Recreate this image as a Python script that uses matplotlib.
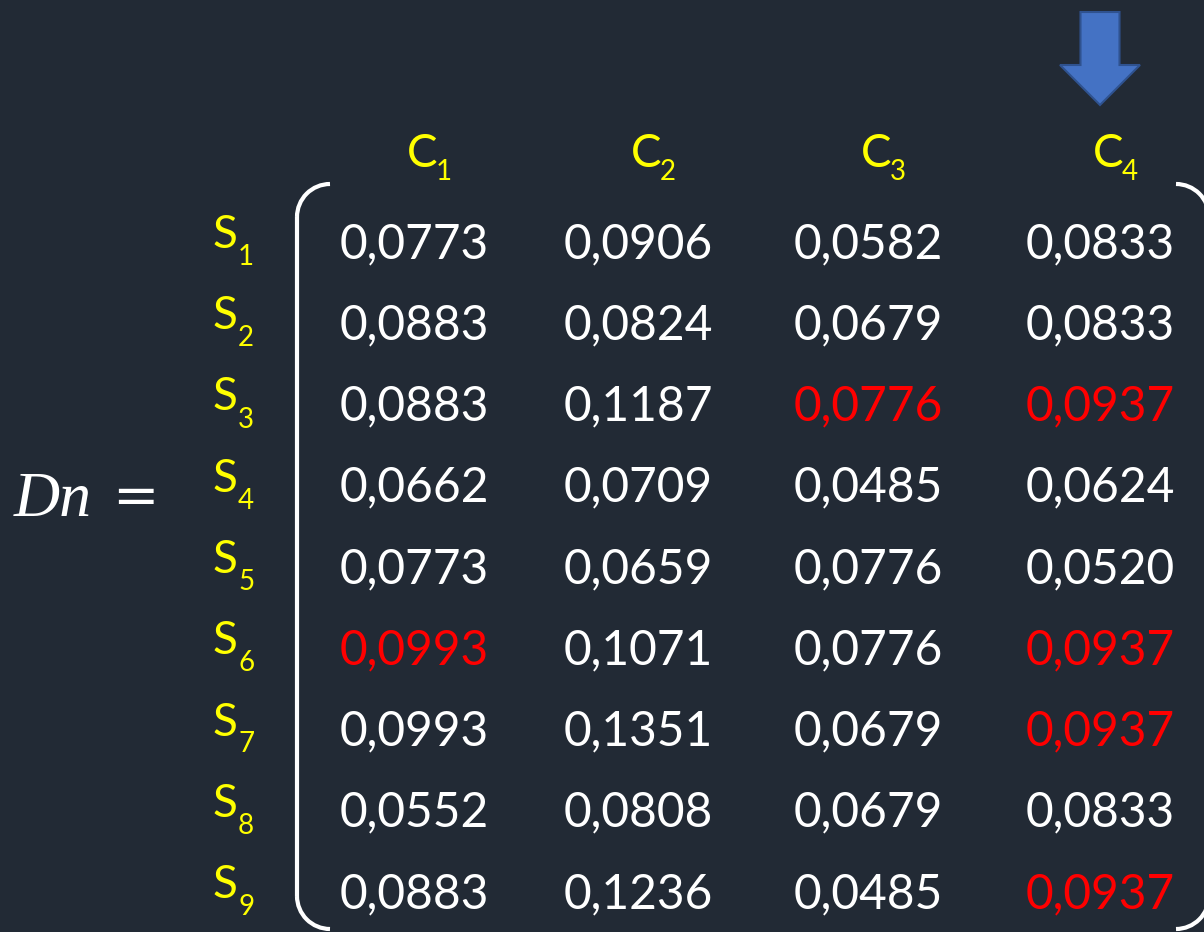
import matplotlib
matplotlib.use("Agg")
import matplotlib.pyplot as plt
from matplotlib.patches import Arc, FancyArrow

# ---- data ----
col_labels = ["1", "2", "3", "4"]
row_labels = ["1", "2", "3", "4", "5", "6", "7", "8", "9"]
values = [
    ["0,0773", "0,0906", "0,0582", "0,0833"],
    ["0,0883", "0,0824", "0,0679", "0,0833"],
    ["0,0883", "0,1187", "0,0776", "0,0937"],
    ["0,0662", "0,0709", "0,0485", "0,0624"],
    ["0,0773", "0,0659", "0,0776", "0,0520"],
    ["0,0993", "0,1071", "0,0776", "0,0937"],
    ["0,0993", "0,1351", "0,0679", "0,0937"],
    ["0,0552", "0,0808", "0,0679", "0,0833"],
    ["0,0883", "0,1236", "0,0485", "0,0937"],
]
highlight = [(2, 2), (2, 3), (5, 0), (5, 3), (6, 3), (8, 3)]
matrix_name = "Dn"
arrow_col = 3

# ---- style / layout ----
BG = "#222a35"
W, H = 1204, 932

fig = plt.figure(figsize=(W / 100, H / 100), dpi=100, facecolor=BG)
ax = fig.add_axes([0, 0, 1, 1])
ax.set_xlim(0, W)
ax.set_ylim(H, 0)
ax.set_facecolor(BG)
ax.axis("off")

col_x = [414, 638, 868, 1100]
row_base0 = 258
row_step = 81.25
YEL = "#ffff00"

# values
for i, row in enumerate(values):
    for j, v in enumerate(row):
        color = "#ff0000" if (i, j) in highlight else "white"
        ax.text(col_x[j], row_base0 + i * row_step, v, ha="center", va="baseline",
                fontsize=34.5, color=color, family="Lato")

# row labels S_i
for i, r in enumerate(row_labels):
    yb = row_base0 - 10 + i * row_step
    ax.text(213, yb, "S", ha="left", va="baseline", fontsize=33, color=YEL, family="Lato")
    ax.text(238, yb + 17, r, ha="left", va="baseline", fontsize=20, color=YEL, family="Lato")

# column labels C_j
for j, c in enumerate(col_labels):
    xl = col_x[j] - 7
    ax.text(xl, 167, "C", ha="left", va="baseline", fontsize=33, color=YEL, family="Lato")
    ax.text(xl + 29, 180, c, ha="left", va="baseline", fontsize=20, color=YEL, family="Lato")

# Dn =
ax.text(14, 516, matrix_name, ha="left", va="baseline", fontsize=46,
        family="Liberation Serif", style="italic", color="white")
ax.text(112, 514, "=", ha="left", va="baseline", fontsize=40,
        family="DejaVu Sans", color="white")

# brackets (rounded corners with arcs; y axis is inverted)
r = 33
lw = 3
top, bot = 184, 929
lx, rx = 297, 1209
kw = dict(color="white", lw=lw)
ax.add_patch(Arc((lx + r, top + r), 2 * r, 2 * r, theta1=180, theta2=270, **kw))
ax.add_patch(Arc((lx + r, bot - r), 2 * r, 2 * r, theta1=90, theta2=180, **kw))
ax.plot([lx, lx], [top + r, bot - r], solid_capstyle="butt", **kw)
ax.add_patch(Arc((rx - r, top + r), 2 * r, 2 * r, theta1=270, theta2=360, **kw))
ax.add_patch(Arc((rx - r, bot - r), 2 * r, 2 * r, theta1=0, theta2=90, **kw))
ax.plot([rx, rx], [top + r, bot - r], solid_capstyle="butt", **kw)

# arrow above highlighted column
ax.add_patch(FancyArrow(col_x[arrow_col], 12, 0, 93, width=39, head_width=80,
                        head_length=40, length_includes_head=True,
                        fc="#4472c4", ec="#2f528f", lw=1.5))

fig.savefig("out.png", dpi=100, facecolor=BG)
